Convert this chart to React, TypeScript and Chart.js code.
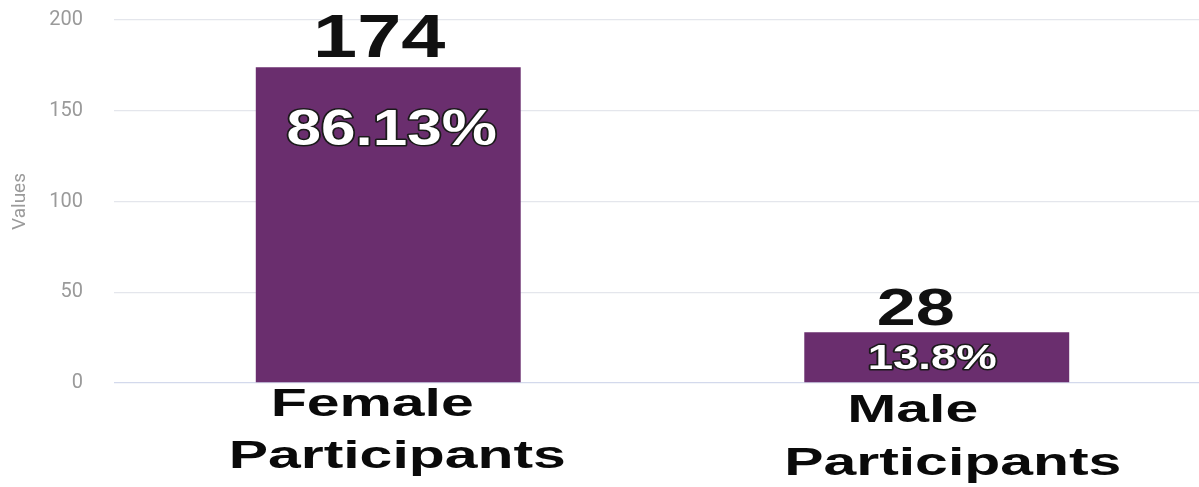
import React, { useEffect, useRef } from "react";
import { Chart, registerables } from "chart.js";

Chart.register(...registerables);

const categories: string[][] = [
  ["Female", "Participants"],
  ["Male", "Participants"],
];
const values: number[] = [174, 28];
const percentLabels: string[] = ["86.13%", "13.8%"];
const yTickValues: number[] = [0, 50, 100, 150, 200];
const yTitle = "Values";

// styling of the hand-placed labels (sizes, horizontal stretch, offsets)
const valueLabelStyle = [
  { size: 61, sx: 1.3, dx: -9, dy: -10 },
  { size: 52, sx: 1.35, dx: -21, dy: -7 },
];
const pctLabelStyle = [
  { size: 50, sx: 1.24, dx: 3.5, dy: 78 },
  { size: 35, sx: 1.3, dx: -4.5, dy: 37 },
];
const catLabelStyle = [
  [
    { dx: -16, dy: 33 },
    { dx: 9, dy: 85 },
  ],
  [
    { dx: -24, dy: 39 },
    { dx: 16, dy: 92 },
  ],
];
const BAR_COLOR = "#6a2e6e";
const FONT = '"Liberation Sans", Arial, sans-serif';

function stretchText(
  ctx: CanvasRenderingContext2D,
  text: string,
  x: number,
  y: number,
  size: number,
  sx: number,
  fill: string,
  stroke?: string,
  strokeWidth = 3
) {
  ctx.save();
  ctx.translate(x, y);
  ctx.scale(sx, 1);
  ctx.font = `bold ${size}px ${FONT}`;
  ctx.textAlign = "center";
  ctx.textBaseline = "alphabetic";
  if (stroke) {
    ctx.lineJoin = "round";
    ctx.lineWidth = strokeWidth;
    ctx.strokeStyle = stroke;
    ctx.strokeText(text, 0, 0);
  }
  ctx.fillStyle = fill;
  ctx.fillText(text, 0, 0);
  ctx.restore();
}

const labelPlugin = {
  id: "customLabels",
  afterDatasetsDraw(chart: any) {
    const ctx: CanvasRenderingContext2D = chart.ctx;
    const meta = chart.getDatasetMeta(0);
    const xScale = chart.scales.x;
    meta.data.forEach((bar: any, i: number) => {
      const v = valueLabelStyle[i];
      stretchText(ctx, String(values[i]), bar.x + v.dx, bar.y + v.dy, v.size, v.sx, "#111111");
      const p = pctLabelStyle[i];
      stretchText(ctx, percentLabels[i], bar.x + p.dx, bar.y + p.dy, p.size, p.sx, "#ffffff", "#1a1a1a", 3);
    });
    categories.forEach((lines, i) => {
      const cx = xScale.getPixelForTick(i);
      lines.forEach((line, j) => {
        const s = catLabelStyle[i][j];
        stretchText(ctx, line, cx + s.dx, xScale.top + s.dy, 38, 1.55, "#0a0a0a");
      });
    });
  },
};

export default function App() {
  const canvasRef = useRef<HTMLCanvasElement | null>(null);

  useEffect(() => {
    if (!canvasRef.current) return;
    const chart = new Chart(canvasRef.current, {
      type: "bar",
      data: {
        labels: categories.map((c) => c.join(" ")),
        datasets: [
          {
            data: values,
            backgroundColor: BAR_COLOR,
            borderWidth: 0,
            barPercentage: 0.483,
            categoryPercentage: 1,
          },
        ],
      },
      options: {
        animation: false,
        responsive: true,
        maintainAspectRatio: false,
        layout: { padding: { top: 20, left: 0, right: 0, bottom: 0 } },
        plugins: {
          legend: { display: false },
          tooltip: { enabled: false },
        },
        scales: {
          x: {
            grid: { display: false },
            border: { display: false },
            ticks: { display: false },
            afterFit: (scale: any) => {
              scale.height = 104;
            },
          },
          y: {
            min: yTickValues[0],
            max: yTickValues[yTickValues.length - 1],
            afterBuildTicks: (scale: any) => {
              scale.ticks = yTickValues.map((v) => ({ value: v }));
            },
            border: { display: false },
            grid: {
              drawTicks: true,
              tickLength: 28,
              tickColor: "rgba(0,0,0,0)",
              color: (c: any) => (c.tick && c.tick.value === 0 ? "#d3d9ec" : "#e4e6ec"),
              lineWidth: 1.3,
            },
            ticks: {
              padding: 3,
              color: "#9a9a9a",
              font: { family: "Roboto", size: 20 },
            },
            title: {
              display: true,
              text: yTitle,
              color: "#9a9a9a",
              font: { family: "Roboto", size: 19 },
              padding: { top: 9, bottom: 0 },
            },
            afterFit: (scale: any) => {
              scale.width = 114;
            },
          },
        },
      },
      plugins: [labelPlugin],
    });
    return () => chart.destroy();
  }, []);

  return (
    <div
      style={{
        position: "fixed",
        left: 0,
        top: 0,
        width: 1199,
        height: 487,
        overflow: "hidden",
        background: "#ffffff",
      }}
    >
      <div style={{ position: "relative", width: 1211, height: 487 }}>
        <canvas ref={canvasRef} />
      </div>
    </div>
  );
}
